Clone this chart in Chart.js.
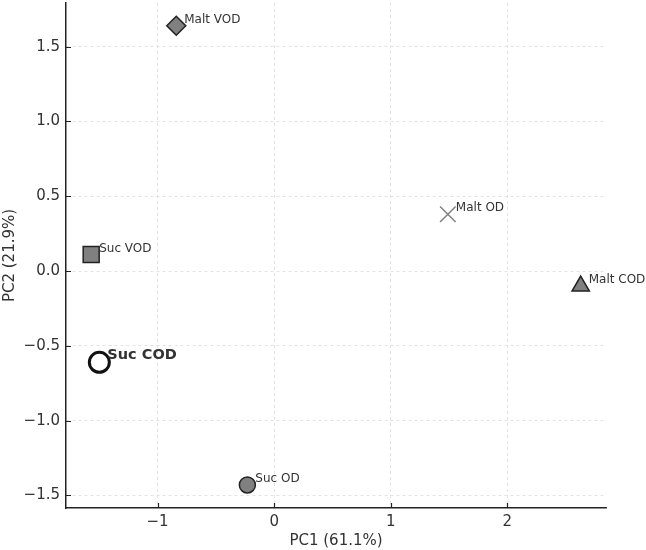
<!DOCTYPE html>
<html>
<head>
<meta charset="utf-8">
<script src="https://cdn.jsdelivr.net/npm/chart.js@4.4.1/dist/chart.umd.min.js"></script>
<style>
  body { margin: 0; background: #fff; }
  #pcaChart { display: block; }
</style>
</head>
<body>
<canvas id="pcaChart" width="646" height="550"></canvas>
<script>
// PCA scores
const samples = ["Suc COD", "Suc OD", "Suc VOD", "Malt COD", "Malt OD", "Malt VOD"];
const pc1 = [-1.50, -0.23, -1.57, 2.63, 1.49, -0.84];
const pc2 = [-0.61, -1.43, 0.11, -0.10, 0.38, 1.64];
const xTicks = [-1, 0, 1, 2];
const yTicks = [-1.5, -1.0, -0.5, 0.0, 0.5, 1.0, 1.5];

// marker look for each sample (same order as samples)
const grey = "#808080";
const edge = "#222";
const markers = [
    { pointStyle: "circle", radius: 10, backgroundColor: "#fff", borderColor: "#111", borderWidth: 3 },
    { pointStyle: "circle", radius: 8, backgroundColor: grey, borderColor: edge, borderWidth: 1.5 },
    { pointStyle: "rect", radius: 11.3, backgroundColor: grey, borderColor: edge, borderWidth: 1.5 },
    { pointStyle: "triangle", radius: 10, backgroundColor: grey, borderColor: edge, borderWidth: 1.5 },
    { pointStyle: "crossRot", radius: 11, backgroundColor: grey, borderColor: grey, borderWidth: 1.5 },
    { pointStyle: "rectRot", radius: 9.5, backgroundColor: grey, borderColor: edge, borderWidth: 1.5 }
];

const minus = s => s.replace("-", "\u2212");
const font = "DejaVu Sans";

// point labels + inward tick marks
const extras = {
    id: "extras",
    beforeDatasetsDraw(chart) {
        const { ctx, scales: { x, y }, chartArea } = chart;
        ctx.save();
        ctx.strokeStyle = edge;
        ctx.lineWidth = 1.2;
        ctx.beginPath();
        xTicks.forEach(v => {
            const px = Math.round(x.getPixelForValue(v)) + 0.5;
            ctx.moveTo(px, chartArea.bottom);
            ctx.lineTo(px, chartArea.bottom - 5);
        });
        yTicks.forEach(v => {
            const py = Math.round(y.getPixelForValue(v)) + 0.5;
            ctx.moveTo(chartArea.left, py);
            ctx.lineTo(chartArea.left + 5, py);
        });
        ctx.stroke();
        ctx.restore();
    },
    afterDatasetsDraw(chart) {
        const { ctx, scales: { x, y } } = chart;
        ctx.save();
        ctx.fillStyle = "#333";
        ctx.textBaseline = "alphabetic";
        ctx.textAlign = "left";
        samples.forEach((name, i) => {
            const bold = name === "Suc COD";
            ctx.font = bold ? "bold 14.5px '" + font + "'" : "12px '" + font + "'";
            ctx.fillText(name, x.getPixelForValue(pc1[i]) + 8, y.getPixelForValue(pc2[i]) - 3);
        });
        ctx.restore();
    }
};

const ctx = document.getElementById("pcaChart").getContext("2d");
new Chart(ctx, {
    type: "scatter",
    data: {
        datasets: samples.map((name, i) => Object.assign({
            label: name,
            data: [{ x: pc1[i], y: pc2[i] }],
            pointHoverRadius: markers[i].radius,
            clip: false
        }, markers[i]))
    },
    options: {
        responsive: false,
        animation: false,
        devicePixelRatio: 1,
        layout: { autoPadding: false, padding: { top: 3, right: 40, left: 0, bottom: 0 } },
        plugins: { legend: { display: false }, tooltip: { enabled: false } },
        scales: {
            x: {
                type: "linear",
                min: -1.786,
                max: 2.847,
                afterBuildTicks: s => { s.ticks = xTicks.map(v => ({ value: v })); },
                afterFit: s => { s.height = 42; s.paddingLeft = 0; s.paddingRight = 0; },
                grid: { color: "#dcdcdc", lineWidth: 0.8, drawTicks: false },
                border: { display: true, color: edge, width: 1.5, dash: [3, 3] },
                ticks: {
                    padding: 5,
                    color: "#333",
                    font: { family: font, size: 15 },
                    callback: v => minus(String(v))
                },
                title: {
                    display: true,
                    text: "PC1 (61.1%)",
                    color: "#333",
                    font: { family: font, size: 15 },
                    padding: { top: 0, bottom: 0 }
                }
            },
            y: {
                type: "linear",
                min: -1.584,
                max: 1.792,
                afterBuildTicks: s => { s.ticks = yTicks.map(v => ({ value: v })); },
                afterFit: s => { s.width = 66; s.paddingTop = 0; s.paddingBottom = 0; },
                grid: { color: "#dcdcdc", lineWidth: 0.8, drawTicks: false },
                border: { display: true, color: edge, width: 1.5, dash: [3, 3] },
                ticks: {
                    padding: 6,
                    color: "#333",
                    font: { family: font, size: 15 },
                    callback: v => minus(v.toFixed(1))
                },
                title: {
                    display: true,
                    text: "PC2 (21.9%)",
                    color: "#333",
                    font: { family: font, size: 15 },
                    padding: { top: 1, bottom: 0 }
                }
            }
        }
    },
    plugins: [extras]
});
</script>
</body>
</html>
